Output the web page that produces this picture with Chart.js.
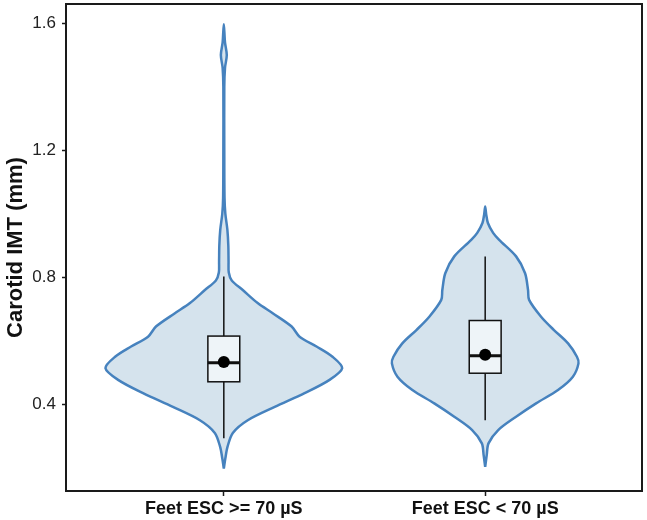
<!DOCTYPE html>
<html>
<head>
<meta charset="utf-8">
<script src="https://cdn.jsdelivr.net/npm/chart.js@4.4.1/dist/chart.umd.min.js"></script>
<style>
  html, body { margin: 0; padding: 0; background: #fff; }
  #wrap { width: 647px; height: 520px; }
</style>
</head>
<body>
<div id="wrap"><canvas id="chart"></canvas></div>
<script>
"use strict"

// categories and tick labels
const categories = ["Feet ESC >= 70 µS", "Feet ESC < 70 µS"];
const yTicks = [0.4, 0.8, 1.2, 1.6];

// violin outlines: IMT level (mm) and relative density (1 = widest)
const violin1Levels = [0.198, 0.23, 0.266, 0.31, 0.35, 0.392, 0.435, 0.477, 0.514, 0.55, 0.582, 0.613, 0.645, 0.687, 0.719, 0.76, 0.79, 0.815, 0.85, 0.9, 0.95, 1.0, 1.05, 1.2, 1.4, 1.46, 1.5, 1.54, 1.597];
const violin1Density = [0, 0.013, 0.031, 0.076, 0.202, 0.43, 0.682, 0.893, 1.0, 0.918, 0.783, 0.64, 0.573, 0.413, 0.286, 0.16, 0.067, 0.042, 0.04, 0.038, 0.03, 0.013, 0.006, 0.004, 0.004, 0.01, 0.025, 0.01, 0];

const violin2Levels = [0.203, 0.24, 0.277, 0.319, 0.361, 0.403, 0.445, 0.487, 0.529, 0.55, 0.592, 0.634, 0.676, 0.729, 0.76, 0.813, 0.866, 0.918, 0.94, 0.971, 1.0, 1.023];
const violin2Density = [0, 0.013, 0.028, 0.11, 0.261, 0.43, 0.615, 0.741, 0.788, 0.775, 0.7, 0.581, 0.472, 0.371, 0.362, 0.337, 0.261, 0.118, 0.067, 0.023, 0.008, 0];

// box plot summaries, one value per category
const boxQ1 = [0.471, 0.498];
const boxMedian = [0.531, 0.553];
const boxQ3 = [0.615, 0.664];
const whiskerLow = [0.293, 0.350];
const whiskerHigh = [0.803, 0.866];
const means = [0.533, 0.556];

const violinHalfWidth = 0.453;
const boxHalfWidth = 0.061;
const lineBlue = "rgb(70, 130, 190)";
const fillBlue = "rgb(213, 227, 237)";

Chart.defaults.font.family = "'Liberation Sans', Arial, sans-serif";
Chart.defaults.color = "#1a1a1a";

function violinPoints(center, levels, density) {
  const left = levels.map((y, i) => ({ x: center - density[i] * violinHalfWidth, y: y }));
  const right = levels.map((y, i) => ({ x: center + density[i] * violinHalfWidth, y: y })).reverse();
  return left.concat(right.slice(1));
}

const violins = [
  violinPoints(1, violin1Levels, violin1Density),
  violinPoints(2, violin2Levels, violin2Density),
];

const datasets = [];
violins.forEach((pts) => {
  datasets.push({
    data: pts,
    showLine: true,
    fill: "shape",
    backgroundColor: fillBlue,
    borderColor: lineBlue,
    borderWidth: 2.5,
    pointRadius: 0,
    tension: 0.3,
    order: 2,
  });
});
categories.forEach((c, i) => {
  datasets.push({
    data: [{ x: i + 1, y: whiskerLow[i] }, { x: i + 1, y: whiskerHigh[i] }],
    showLine: true,
    borderColor: "#111",
    borderWidth: 1.5,
    pointRadius: 0,
    order: 1,
  });
});

// boxes, medians and means drawn with the chart's scales
const boxPlugin = {
  id: "boxes",
  afterDatasetsDraw(chart) {
    const { ctx, scales: { x, y } } = chart;
    ctx.save();
    categories.forEach((c, i) => {
      const l = x.getPixelForValue(i + 1 - boxHalfWidth);
      const r = x.getPixelForValue(i + 1 + boxHalfWidth);
      const t = y.getPixelForValue(boxQ3[i]);
      const b = y.getPixelForValue(boxQ1[i]);
      ctx.fillStyle = "rgb(238, 244, 248)";
      ctx.fillRect(l, t, r - l, b - t);
      ctx.strokeStyle = "#111";
      ctx.lineWidth = 1.5;
      ctx.strokeRect(l, t, r - l, b - t);
      const m = y.getPixelForValue(boxMedian[i]);
      ctx.lineWidth = 3;
      ctx.beginPath();
      ctx.moveTo(l, m);
      ctx.lineTo(r, m);
      ctx.stroke();
      ctx.fillStyle = "#000";
      ctx.beginPath();
      ctx.arc(x.getPixelForValue(i + 1), y.getPixelForValue(means[i]), 6, 0, Math.PI * 2);
      ctx.fill();
    });
    ctx.restore();
  },
  afterDraw(chart) {
    const { ctx, chartArea: a } = chart;
    ctx.save();
    ctx.strokeStyle = "#1a1a1a";
    ctx.lineWidth = 2;
    ctx.strokeRect(a.left - 1, a.top, a.right - a.left + 1, a.bottom - a.top);
    ctx.restore();
  },
};

const config = {
  type: "scatter",
  data: { datasets: datasets },
  options: {
    responsive: true,
    maintainAspectRatio: false,
    devicePixelRatio: 1,
    animation: false,
    layout: { padding: { top: 4, right: 5, left: 0, bottom: 0 } },
    plugins: { legend: { display: false }, tooltip: { enabled: false } },
    scales: {
      x: {
        type: "linear",
        min: 0.4,
        max: 2.6,
        afterBuildTicks: (s) => { s.ticks = categories.map((c, i) => ({ value: i + 1 })); },
        afterFit: (s) => { s.height = 29; s.paddingLeft = 0; s.paddingRight = 0; },
        ticks: {
          callback: (v) => categories[v - 1],
          autoSkip: false,
          maxRotation: 0,
          padding: 2,
          color: "#111",
          font: { size: 18, weight: "bold" },
        },
        grid: { drawOnChartArea: false, tickLength: 5, tickColor: "#1a1a1a", tickWidth: 1.5 },
        border: { display: false },
      },
      y: {
        min: 0.127,
        max: 1.661,
        afterBuildTicks: (s) => { s.ticks = yTicks.map((v) => ({ value: v })); },
        afterFit: (s) => { s.width = 67; s.paddingTop = 0; s.paddingBottom = 0; },
        ticks: {
          callback: (v) => v.toFixed(1),
          padding: 6,
          color: "#222",
          font: { size: 17 },
        },
        grid: { drawOnChartArea: false, tickLength: 5, tickColor: "#1a1a1a", tickWidth: 1.5 },
        border: { display: false },
        title: {
          display: true,
          text: "Carotid IMT (mm)",
          color: "#111",
          padding: { top: 3, bottom: 0 },
          font: { size: 22, weight: "bold" },
        },
      },
    },
  },
  plugins: [boxPlugin],
};

const canvas = document.querySelector("#chart");
const chart = new Chart(canvas, config);
</script>
</body>
</html>
